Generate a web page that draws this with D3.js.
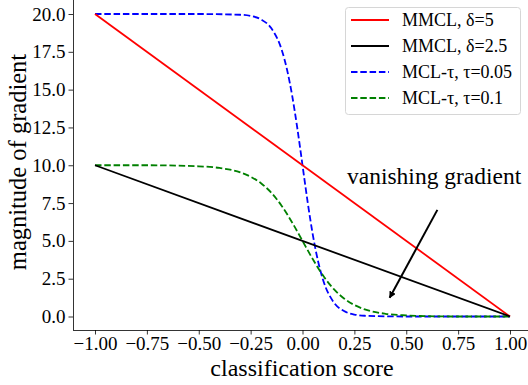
<!DOCTYPE html>
<html>
<head>
<meta charset="utf-8">
<script src="https://cdn.jsdelivr.net/npm/d3@7"></script>
<style>
  body { margin: 0; background: #fff; }
  text { font-family: "Liberation Serif", "Times New Roman", serif; }
</style>
</head>
<body>
<script>
// values
const xTicks = [-1, -0.75, -0.5, -0.25, 0, 0.25, 0.5, 0.75, 1];
const yTicks = [0, 2.5, 5, 7.5, 10, 12.5, 15, 17.5, 20];

const mmcl5 = [[-1, 20], [1, 0]];
const mmcl25 = [[-1, 10], [1, 0]];

const blueX = [-1, -0.5, -0.3, -0.25, -0.2, -0.15, -0.1, -0.075, -0.05, -0.025, 0, 0.025, 0.05, 0.075, 0.1, 0.15, 0.2, 0.25, 0.3, 0.5, 1];
const blueY = [20, 20, 19.95, 19.87, 19.64, 19.05, 17.62, 16.35, 14.62, 12.45, 10, 7.55, 5.38, 3.65, 2.38, 0.95, 0.36, 0.13, 0.05, 0, 0];

const greenX = [-1, -0.75, -0.5, -0.4, -0.3, -0.25, -0.2, -0.15, -0.1, -0.05, 0, 0.05, 0.1, 0.15, 0.2, 0.25, 0.3, 0.4, 0.5, 0.6, 0.75, 1];
const greenY = [10, 10, 9.93, 9.82, 9.53, 9.24, 8.81, 8.18, 7.31, 6.22, 5, 3.78, 2.69, 1.82, 1.19, 0.76, 0.47, 0.18, 0.07, 0.02, 0, 0];

const legendLabels = ['MMCL, δ=5', 'MMCL, δ=2.5', 'MCL-τ, τ=0.05', 'MCL-τ, τ=0.1'];

const W = 528, H = 385;
const LW = 1.8, DASH = '6.5,2.8';

const x = d3.scaleLinear().domain([-1, 1]).range([95, 510]);
const y = d3.scaleLinear().domain([0, 20]).range([316.5, 14]);

const svg = d3.select('body').append('svg')
  .attr('width', W)
  .attr('height', H);

// axes
const xAxis = svg.append('g')
  .attr('transform', 'translate(0,330)')
  .call(d3.axisBottom(x).tickValues(xTicks).tickSize(4.5).tickPadding(2)
    .tickFormat(d => d3.format('.2f')(d).replace('-', '\u2212')));
xAxis.select('.domain').attr('d', 'M73,0.5H528');

const yAxis = svg.append('g')
  .attr('transform', 'translate(73,0)')
  .call(d3.axisLeft(y).tickValues(yTicks).tickSize(4.5).tickPadding(3)
    .tickFormat(d3.format('.1f')));
yAxis.select('.domain').attr('d', 'M0.5,0V330');

svg.selectAll('.tick text')
  .attr('font-family', '"Liberation Serif", serif')
  .attr('font-size', 19)
  .attr('fill', '#000');
svg.selectAll('.tick line').attr('stroke', '#000').attr('stroke-width', 0.8);
svg.selectAll('.domain').attr('stroke', '#000').attr('stroke-width', 0.8);

svg.append('text')
  .attr('x', 302)
  .attr('y', 376)
  .attr('text-anchor', 'middle')
  .attr('font-size', 24)
  .text('classification score');

svg.append('text')
  .attr('transform', 'translate(26,162) rotate(-90)')
  .attr('text-anchor', 'middle')
  .attr('font-size', 24.5)
  .text('magnitude of gradient');

// series
const line = d3.line()
  .x(d => x(d[0]))
  .y(d => y(d[1]))
  .curve(d3.curveMonotoneX);

const plot = svg.append('g');

plot.append('path').datum(blueX.map((v, i) => [v, blueY[i]]))
  .attr('d', line).attr('fill', 'none')
  .attr('stroke', '#0000ff').attr('stroke-width', LW)
  .attr('stroke-dasharray', DASH);

plot.append('path').datum(greenX.map((v, i) => [v, greenY[i]]))
  .attr('d', line).attr('fill', 'none')
  .attr('stroke', '#008000').attr('stroke-width', LW)
  .attr('stroke-dasharray', DASH);

plot.append('path').datum(mmcl5)
  .attr('d', line).attr('fill', 'none')
  .attr('stroke', '#ff0000').attr('stroke-width', LW);

plot.append('path').datum(mmcl25)
  .attr('d', line).attr('fill', 'none')
  .attr('stroke', '#000').attr('stroke-width', LW);

// annotation
svg.append('defs').append('marker')
  .attr('id', 'head')
  .attr('viewBox', '0 0 10 10')
  .attr('refX', 9).attr('refY', 5)
  .attr('markerWidth', 7).attr('markerHeight', 7)
  .attr('markerUnits', 'userSpaceOnUse')
  .attr('orient', 'auto')
  .append('path').attr('d', 'M0,0L10,5L0,10z').attr('fill', '#000');

svg.append('line')
  .attr('x1', x(0.65)).attr('y1', y(7.05))
  .attr('x2', x(0.42)).attr('y2', y(1.24))
  .attr('stroke', '#000').attr('stroke-width', 2)
  .attr('marker-end', 'url(#head)');

svg.append('text')
  .attr('x', 347)
  .attr('y', 184)
  .attr('font-size', 23.5)
  .text('vanishing gradient');

// legend
const legend = svg.append('g');
legend.append('rect')
  .attr('x', 345.5).attr('y', 7.5)
  .attr('width', 175).attr('height', 107)
  .attr('rx', 3)
  .attr('fill', '#fff').attr('fill-opacity', 0.8)
  .attr('stroke', '#d6d6d6');

const styles = [
  { c: '#ff0000', dash: null },
  { c: '#000', dash: null },
  { c: '#0000ff', dash: DASH },
  { c: '#008000', dash: DASH }
];

legendLabels.forEach((lab, i) => {
  const cy = 20 + i * 26;
  legend.append('line')
    .attr('x1', 351).attr('x2', 389)
    .attr('y1', cy).attr('y2', cy)
    .attr('stroke', styles[i].c).attr('stroke-width', LW)
    .attr('stroke-dasharray', styles[i].dash);
  legend.append('text')
    .attr('x', 402).attr('y', cy + 6)
    .attr('font-size', 18)
    .text(lab);
});
</script>
</body>
</html>
